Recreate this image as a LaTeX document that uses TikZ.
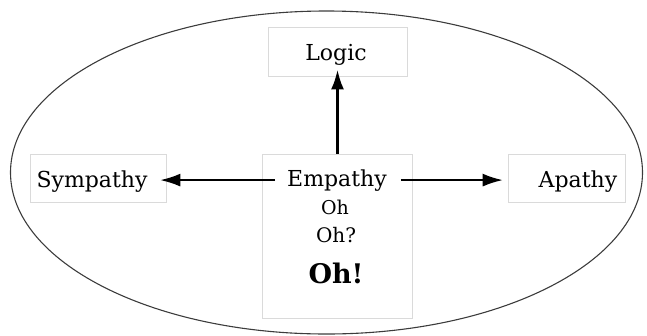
\documentclass[tikz,border=0pt]{standalone}
\usepackage{fontspec}
\setmainfont{DejaVu Serif}
\usepackage{tikz}
\usetikzlibrary{arrows.meta,positioning,calc}
\definecolor{boxgray}{RGB}{218,218,218}
\definecolor{ringgray}{RGB}{60,60,60}

\begin{document}
\begin{tikzpicture}[
    x=1pt, y=-1pt,
    box/.style={draw=boxgray, line width=0.8pt, inner sep=0pt},
    word/.style={anchor=base, inner sep=0pt, font=\fontsize{22}{24}\selectfont},
    >={Latex[length=20pt,width=13pt]}
]
  \useasboundingbox (0,0) rectangle (647,335);
  \draw[ringgray, line width=1.1pt] (326.5,172.5) ellipse [x radius=316, y radius=161.5];

  % boxes
  \node[box, minimum width=139pt, minimum height=49pt] (logic) at (337.5,51.5) {};
  \node[box, minimum width=136pt, minimum height=48pt] (sympathy) at (98,178) {};
  \node[box, minimum width=117pt, minimum height=48pt] (apathy) at (566.5,178) {};
  \node[box, minimum width=150pt, minimum height=164pt] (empathy) at (337,236) {};

  % texts
  \node[word] (logictxt) at (336,60) {Logic};
  \node[word] (sympathytxt) at (92,187) {Sympathy};
  \node[word] (apathytxt) at (578,187) {Apathy};
  \node[word] (emptxt) at (337,186) {Empathy};
  \node[word, font=\fontsize{19}{21}\selectfont] (oha) at (335,214) {Oh};
  \node[word, font=\fontsize{20}{22}\selectfont] (ohb) at (336,242) {Oh?};
  \node[word, font=\fontsize{27}{30}\selectfont\bfseries] (ohc) at (336,283) {Oh!};

  \draw[->, line width=3pt] (empathy.north -| logic.south) -- ([yshift=7pt]logic.south);
  \draw[->, line width=1.5pt, shorten <=12pt] (emptxt.west) -- ([xshift=-6pt]sympathy.east |- emptxt.west);
  \draw[->, line width=1.5pt, shorten <=14pt] (emptxt.east) -- ([xshift=-5pt]apathy.west |- emptxt.east);
\end{tikzpicture}
\end{document}
